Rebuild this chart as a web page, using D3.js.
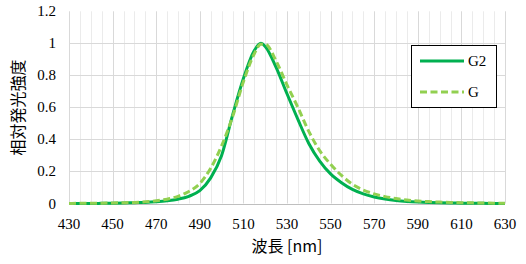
<!DOCTYPE html>
<html>
<head>
<meta charset="utf-8">
<script src="https://cdn.jsdelivr.net/npm/d3@7"></script>
<style>
  body { margin: 0; background: #fff; }
</style>
</head>
<body>
<script>
// wavelength [nm] and relative intensity
var wavelengths = [430, 435, 440, 445, 450, 455, 460, 465, 470, 475, 480, 485, 490, 495, 500, 505, 510, 515, 518, 520,
    525, 530, 535, 540, 545, 550, 555, 560, 565, 570, 575, 580, 585, 590, 595, 600, 605, 610, 615, 620, 625, 630];
var g2 = [0, 0, 0, 0.001, 0.002, 0.003, 0.005, 0.007, 0.011, 0.017, 0.027, 0.045, 0.08, 0.16, 0.30, 0.55, 0.78, 0.955, 1.0, 0.98,
    0.85, 0.685, 0.525, 0.375, 0.265, 0.185, 0.13, 0.088, 0.06, 0.041, 0.028, 0.019, 0.013, 0.009, 0.006, 0.004, 0.003, 0.002, 0.001, 0.001, 0, 0];
var g = [0, 0.001, 0.001, 0.002, 0.003, 0.005, 0.007, 0.011, 0.017, 0.027, 0.045, 0.075, 0.125, 0.22, 0.36, 0.54, 0.76, 0.935, 0.995, 0.995,
    0.89, 0.74, 0.6, 0.45, 0.33, 0.245, 0.175, 0.12, 0.084, 0.06, 0.043, 0.031, 0.022, 0.016, 0.012, 0.009, 0.007, 0.005, 0.004, 0.003, 0.002, 0.001];
var xTicks = [430, 450, 470, 490, 510, 530, 550, 570, 590, 610, 630];
var yTicks = [0, 0.2, 0.4, 0.6, 0.8, 1, 1.2];
var seriesNames = ["G2", "G"];

var w = 526;
var h = 264;
var plotL = 69, plotR = 505, plotT = 11.3, plotB = 203.5;

var svg = d3.select("body")
    .append("svg")
    .attr("width", w)
    .attr("height", h);

var x = d3.scaleLinear().domain([430, 630]).range([plotL, plotR]);
var y = d3.scaleLinear().domain([0, 1.2]).range([plotB, plotT]);

// minor vertical grid every 5 nm
svg.append("g")
    .selectAll("line")
    .data(d3.range(430, 631, 5).filter(function (d) { return (d - 430) % 20 !== 0; }))
    .enter()
    .append("line")
    .attr("x1", function (d) { return Math.round(x(d)) + 0.5; })
    .attr("x2", function (d) { return Math.round(x(d)) + 0.5; })
    .attr("y1", plotT)
    .attr("y2", plotB)
    .attr("stroke", "#ebebeb");

// major vertical grid
svg.append("g")
    .selectAll("line")
    .data(xTicks)
    .enter()
    .append("line")
    .attr("x1", function (d) { return Math.round(x(d)) + 0.5; })
    .attr("x2", function (d) { return Math.round(x(d)) + 0.5; })
    .attr("y1", plotT)
    .attr("y2", plotB)
    .attr("stroke", "#d9d9d9");

// horizontal grid
svg.append("g")
    .selectAll("line")
    .data(yTicks.slice(1, -1))
    .enter()
    .append("line")
    .attr("x1", plotL)
    .attr("x2", plotR)
    .attr("y1", function (d) { return Math.round(y(d)) + 0.5; })
    .attr("y2", function (d) { return Math.round(y(d)) + 0.5; })
    .attr("stroke", "#d9d9d9");

// x axis line
svg.append("line")
    .attr("x1", plotL)
    .attr("x2", plotR)
    .attr("y1", Math.round(y(0)) + 0.5)
    .attr("y2", Math.round(y(0)) + 0.5)
    .attr("stroke", "#bfbfbf");

// tick labels
svg.append("g")
    .selectAll("text")
    .data(xTicks)
    .enter()
    .append("text")
    .text(function (d) { return d; })
    .attr("x", function (d) { return x(d); })
    .attr("y", 229)
    .attr("text-anchor", "middle")
    .attr("font-family", "Liberation Serif, serif")
    .attr("font-size", "15px")
    .attr("fill", "#000");

svg.append("g")
    .selectAll("text")
    .data(yTicks)
    .enter()
    .append("text")
    .text(function (d) { return d; })
    .attr("x", 56)
    .attr("y", function (d) { return y(d) + 5; })
    .attr("text-anchor", "end")
    .attr("font-family", "Liberation Serif, serif")
    .attr("font-size", "15px")
    .attr("fill", "#000");

// axis titles
svg.append("text")
    .text("波長 [nm]")
    .attr("x", (plotL + plotR) / 2)
    .attr("y", 252)
    .attr("text-anchor", "middle")
    .attr("font-family", "Noto Sans CJK JP, sans-serif")
    .attr("font-size", "16px")
    .attr("fill", "#000");

svg.append("text")
    .text("相対発光強度")
    .attr("transform", "translate(24," + ((plotT + plotB) / 2) + ") rotate(-90)")
    .attr("text-anchor", "middle")
    .attr("font-family", "Noto Sans CJK JP, sans-serif")
    .attr("font-size", "16px")
    .attr("fill", "#000");

// lines
var series = [
    { name: seriesNames[0], values: g2, color: "#00b050", dash: null },
    { name: seriesNames[1], values: g, color: "#92d050", dash: "7,3.5" }
];

var line = d3.line()
    .x(function (d) { return x(d[0]); })
    .y(function (d) { return y(d[1]); })
    .curve(d3.curveMonotoneX);

svg.selectAll("path.series")
    .data(series)
    .enter()
    .append("path")
    .attr("class", "series")
    .attr("d", function (s) { return line(d3.zip(wavelengths, s.values)); })
    .attr("fill", "none")
    .attr("stroke", function (s) { return s.color; })
    .attr("stroke-width", 3)
    .attr("stroke-dasharray", function (s) { return s.dash; });

// legend
var legend = svg.append("g");
legend.append("rect")
    .attr("x", 411.5)
    .attr("y", 45.5)
    .attr("width", 85)
    .attr("height", 62)
    .attr("fill", "#fff")
    .attr("stroke", "#000");

var items = legend.selectAll("g.item")
    .data(series)
    .enter()
    .append("g")
    .attr("transform", function (d, i) { return "translate(0," + (61 + i * 31) + ")"; });

items.append("line")
    .attr("x1", 420)
    .attr("x2", 464)
    .attr("stroke", function (d) { return d.color; })
    .attr("stroke-width", 3)
    .attr("stroke-dasharray", function (d) { return d.dash; });

items.append("text")
    .text(function (d) { return d.name; })
    .attr("x", 468)
    .attr("y", 5)
    .attr("font-family", "Liberation Serif, serif")
    .attr("font-size", "15px")
    .attr("fill", "#000");
</script>
</body>
</html>
